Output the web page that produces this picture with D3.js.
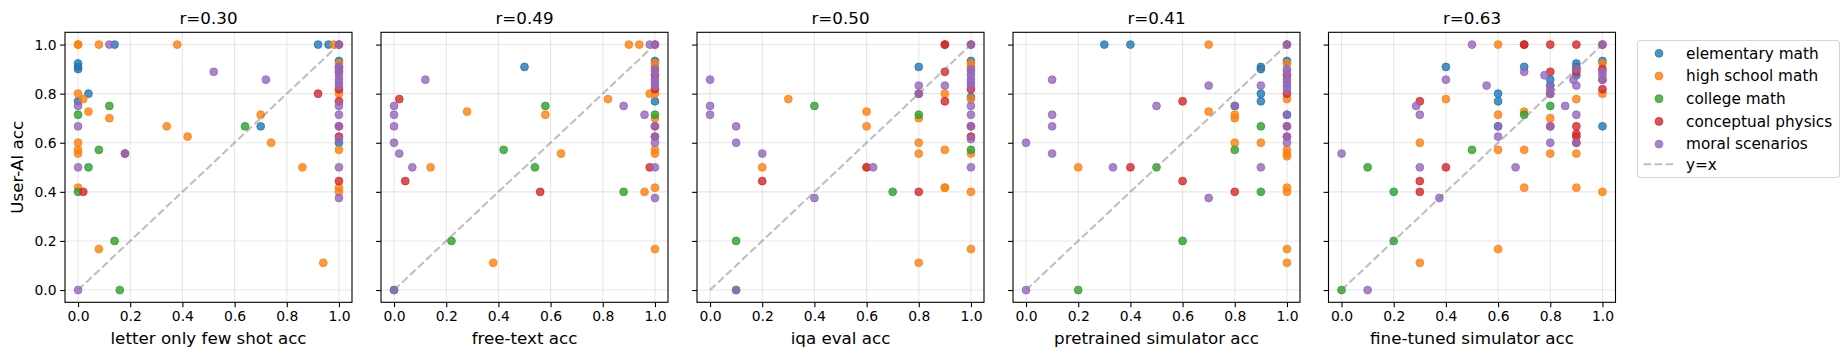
<!DOCTYPE html>
<html>
<head>
<meta charset="utf-8">
<script src="https://cdn.jsdelivr.net/npm/d3@7"></script>
<style>
  body { margin: 0; background: #fff; }
  text { font-family: "DejaVu Sans", sans-serif; fill: #000; }
</style>
</head>
<body>
<div id="graph"></div>
<script>

// categories (tab10 order)
var categories = ["elementary math", "high school math", "college math", "conceptual physics", "moral scenarios"];
var colors = ["#1f77b4", "#ff7f0e", "#2ca02c", "#d62728", "#9467bd"];

var xLabels = ["letter only few shot acc", "free-text acc", "iqa eval acc", "pretrained simulator acc", "fine-tuned simulator acc"];
var rValues = ["0.30", "0.49", "0.50", "0.41", "0.63"];
var tickValues = [0, 0.2, 0.4, 0.6, 0.8, 1.0];

// points: [x, user-AI acc, category index]
var letterOnly = [
  [0,0.923,0],[0,0.909,0],[0,0.9,0],[0,0.769,0],[0.04,0.8,0],[0.14,1,0],[0.92,1,0],[0.96,1,0],[0.7,0.667,0],[1,0.933,0],[1,0.6,0],[1,0.909,0],
  [0,1,1],[0,1,1],[0.08,1,1],[0.38,1,1],[0.98,1,1],[0,0.8,1],[0.02,0.778,1],[0.04,0.727,1],[0.12,0.7,1],[0,0.6,1],[0,0.571,1],[0,0.556,1],
  [0,0.417,1],[0.08,0.167,1],[0.34,0.667,1],[0.42,0.625,1],[0.7,0.714,1],[0.74,0.6,1],[0.86,0.5,1],[0.94,0.111,1],[1,0.923,1],[1,0.8,1],
  [1,0.571,1],[1,0.417,1],[1,0.4,1],
  [0,0.714,2],[0,0.4,2],[0.12,0.75,2],[0.08,0.571,2],[0.04,0.5,2],[0.14,0.2,2],[0.16,0,2],[0.64,0.667,2],
  [0.02,0.4,3],[0.18,0.556,3],[0.92,0.8,3],[1,1,3],[1,0.889,3],[1,0.818,3],[1,0.769,3],[1,0.667,3],[1,0.625,3],[1,0.444,3],
  [0,0.75,4],[0,0.667,4],[0,0.5,4],[0,0,4],[0.12,1,4],[0.18,0.556,4],[0.52,0.889,4],[0.72,0.857,4],[1,1,4],[1,0.909,4],[1,0.9,4],
  [1,0.875,4],[1,0.857,4],[1,0.846,4],[1,0.833,4],[1,0.75,4],[1,0.714,4],[1,0.667,4],[1,0.615,4],[1,0.5,4],[1,0.375,4]
];

var freeText = [
  [0.5,0.909,0],[1,0.933,0],[1,0.769,0],
  [0.9,1,1],[0.94,1,1],[0.28,0.727,1],[0.58,0.714,1],[0.64,0.556,1],[0.14,0.5,1],[0.82,0.778,1],[0.98,0.8,1],[0.96,0.4,1],[0.38,0.111,1],
  [1,0.923,1],[1,0.909,1],[1,0.8,1],[1,0.7,1],[1,0.571,1],[1,0.556,1],[1,0.417,1],[1,0.167,1],
  [0.58,0.75,2],[0.42,0.571,2],[0.54,0.5,2],[0.88,0.4,2],[0.22,0.2,2],[0,0,2],[1,0.714,2],
  [1,1,3],[0.02,0.778,3],[0.043,0.444,3],[0.56,0.4,3],[0.98,0.5,3],[1,0.875,3],[1,0.818,3],[1,0.667,3],[1,0.625,3],
  [0.98,1,4],[1,1,4],[0.12,0.857,4],[0,0.75,4],[0,0.714,4],[0,0.667,4],[0,0.6,4],[0.02,0.556,4],[0.07,0.5,4],[0.88,0.75,4],[0.96,0.714,4],
  [0,0,4],[1,0.9,4],[1,0.889,4],[1,0.857,4],[1,0.846,4],[1,0.833,4],[1,0.667,4],[1,0.625,4],[1,0.6,4],[1,0.5,4],[1,0.375,4]
];

var iqaEval = [
  [0.8,0.909,0],[1,0.933,0],[1,0.786,0],
  [0.3,0.778,1],[0.2,0.5,1],[0.6,0.727,1],[0.6,0.667,1],[0.6,0.5,1],[0.8,0.7,1],[0.8,0.6,1],[0.8,0.556,1],[0.8,0.111,1],[0.9,0.8,1],
  [0.9,0.571,1],[0.9,0.417,1],[0.9,0.417,1],[1,0.923,1],[1,0.909,1],[1,0.778,1],[1,0.556,1],[1,0.4,1],[1,0.167,1],
  [0.4,0.75,2],[0.7,0.4,2],[0.1,0.2,2],[0.1,0,2],[0.8,0.714,2],[1,0.571,2],
  [0.2,0.444,3],[0.6,0.5,3],[0.8,0.8,3],[0.8,0.4,3],[0.9,1,3],[0.9,1,3],[0.9,0.889,3],[0.9,0.769,3],[1,1,3],[1,0.818,3],[1,0.667,3],[1,0.625,3],
  [0,0.857,4],[0,0.75,4],[0,0.714,4],[0.1,0.667,4],[0.1,0.6,4],[0.2,0.556,4],[0.625,0.5,4],[0.4,0.375,4],[0.1,0,4],[0.8,0.833,4],[0.8,0.8,4],
  [0.9,0.833,4],[1,1,4],[1,0.9,4],[1,0.889,4],[1,0.875,4],[1,0.857,4],[1,0.846,4],[1,0.833,4],[1,0.75,4],[1,0.714,4],[1,0.667,4],
  [1,0.615,4],[1,0.5,4]
];

var pretrained = [
  [0.3,1,0],[0.4,1,0],[0.9,0.909,0],[0.9,0.9,0],[0.9,0.8,0],[0.9,0.769,0],[0.8,0.75,0],[1,0.933,0],[1,0.714,0],
  [0.7,1,1],[0.2,0.5,1],[0.7,0.727,1],[0.8,0.714,1],[0.8,0.7,1],[0.8,0.6,1],[0.9,0.6,1],[1,0.923,1],[1,0.778,1],[1,0.571,1],[1,0.556,1],
  [1,0.545,1],[1,0.417,1],[1,0.4,1],[1,0.167,1],[1,0.111,1],
  [0.5,0.5,2],[0.6,0.2,2],[0.2,0,2],[0.8,0.571,2],[0.9,0.667,2],[0.9,0.4,2],
  [0.4,0.5,3],[0.6,0.769,3],[0.6,0.444,3],[0.8,0.4,3],[1,1,3],[1,0.875,3],[1,0.8,3],[1,0.667,3],[1,0.625,3],
  [0.1,0.857,4],[0.1,0.714,4],[0.1,0.667,4],[0,0.6,4],[0.1,0.556,4],[0.333,0.5,4],[0.5,0.75,4],[0.7,0.833,4],[0.7,0.375,4],[0,0,4],
  [0.8,0.75,4],[0.9,0.833,4],[0.9,0.5,4],[1,1,4],[1,0.9,4],[1,0.889,4],[1,0.857,4],[1,0.846,4],[1,0.833,4],[1,0.818,4],[1,0.714,4],
  [1,0.667,4],[1,0.625,4],[1,0.6,4]
];

var fineTuned = [
  [0.4,0.909,0],[0.6,0.8,0],[0.6,0.769,0],[0.6,0.667,0],[0.7,0.909,0],[0.8,0.857,0],[0.8,0.833,0],[0.9,0.923,0],[0.9,0.909,0],[0.9,0.875,0],
  [1,0.933,0],[1,0.667,0],
  [0.3,0.6,1],[0.3,0.111,1],[0.4,0.778,1],[0.6,1,1],[0.6,0.714,1],[0.6,0.571,1],[0.6,0.167,1],[0.7,0.727,1],[0.7,0.571,1],[0.7,0.417,1],
  [0.8,0.7,1],[0.8,0.556,1],[0.9,0.778,1],[0.9,0.556,1],[0.9,0.417,1],[1,0.923,1],[1,0.8,1],[1,0.4,1],
  [0,0,2],[0.1,0.5,2],[0.2,0.4,2],[0.2,0.2,2],[0.5,0.571,2],[0.7,0.714,2],[0.8,0.75,2],
  [0.3,0.769,3],[0.3,0.444,3],[0.3,0.4,3],[0.4,0.5,3],[0.7,1,3],[0.7,1,3],[0.8,1,3],[0.8,0.889,3],[0.8,0.8,3],[0.8,0.667,3],[0.9,1,3],
  [0.9,0.9,3],[0.9,0.889,3],[0.9,0.667,3],[0.9,0.636,3],[0.9,0.625,3],[0.9,0.6,3],[1,1,3],[1,0.9,3],[1,0.857,3],[1,0.818,3],
  [0,0.556,4],[0.1,0,4],[0.286,0.75,4],[0.3,0.714,4],[0.3,0.5,4],[0.375,0.375,4],[0.4,0.857,4],[0.5,1,4],[0.556,0.833,4],[0.6,0.667,4],
  [0.6,0.625,4],[0.667,0.5,4],[0.7,0.889,4],[0.778,0.875,4],[0.8,0.833,4],[0.8,0.815,4],[0.8,0.8,4],[0.8,0.667,4],[0.8,0.6,4],
  [0.857,0.75,4],[0.889,0.857,4],[0.9,0.9,4],[0.9,0.833,4],[0.9,0.714,4],[0.9,0.6,4],[1,1,4],[1,0.889,4],[1,0.875,4],[1,0.857,4]
];

var panels = [letterOnly, freeText, iqaEval, pretrained, fineTuned];

var width = 1848, height = 359;
var axW = 287, axH = 270, axTop = 32.3;
var axLefts = [65, 381, 697, 1013, 1328.5];

var svg = d3.select("#graph").append("svg")
  .attr("width", width)
  .attr("height", height);

svg.append("rect").attr("width", width).attr("height", height).attr("fill", "#fff");

var x = d3.scaleLinear().domain([-0.05, 1.05]).range([0, axW]);
var y = d3.scaleLinear().domain([-0.05, 1.05]).range([axH, 0]);

panels.forEach(function(pts, i) {
  var g = svg.append("g")
    .attr("transform", "translate(" + axLefts[i] + "," + axTop + ")");

  // grid
  g.selectAll(".gx").data(tickValues).enter().append("line")
    .attr("x1", function(d) { return x(d); }).attr("x2", function(d) { return x(d); })
    .attr("y1", 0).attr("y2", axH)
    .attr("stroke", "#b0b0b0").attr("stroke-opacity", 0.3).attr("stroke-width", 1.1);
  g.selectAll(".gy").data(tickValues).enter().append("line")
    .attr("y1", function(d) { return y(d); }).attr("y2", function(d) { return y(d); })
    .attr("x1", 0).attr("x2", axW)
    .attr("stroke", "#b0b0b0").attr("stroke-opacity", 0.3).attr("stroke-width", 1.1);

  // points, drawn category by category like matplotlib
  var sorted = pts.slice().sort(function(a, b) { return a[2] - b[2]; });
  g.selectAll(".dot").data(sorted).enter().append("circle")
    .attr("cx", function(d) { return x(d[0]); })
    .attr("cy", function(d) { return y(d[1]); })
    .attr("r", 3.9)
    .attr("fill", function(d) { return colors[d[2]]; })
    .attr("fill-opacity", 0.8)
    .attr("stroke", function(d) { return colors[d[2]]; })
    .attr("stroke-opacity", 0.8)
    .attr("stroke-width", 1);

  // y = x
  g.append("line")
    .attr("x1", x(0)).attr("y1", y(0))
    .attr("x2", x(1)).attr("y2", y(1))
    .attr("stroke", "#808080").attr("stroke-opacity", 0.5)
    .attr("stroke-width", 2.08)
    .attr("stroke-dasharray", "7.7,3.3");

  // axes
  var xa = g.append("g").attr("transform", "translate(0," + axH + ")")
    .call(d3.axisBottom(x).tickValues(tickValues).tickFormat(d3.format(".1f")).tickSize(4.9).tickPadding(3.5));
  var ya = g.append("g")
    .call(d3.axisLeft(y).tickValues(tickValues).tickFormat(i === 0 ? d3.format(".1f") : "").tickSize(4.9).tickPadding(3.5));
  [xa, ya].forEach(function(a) {
    a.select(".domain").remove();
    a.selectAll("line").attr("stroke", "#000").attr("stroke-width", 1.1);
    a.selectAll("text").attr("font-size", "13.9px").attr("font-family", "DejaVu Sans").attr("fill", "#000");
  });

  g.append("rect")
    .attr("width", axW).attr("height", axH)
    .attr("fill", "none").attr("stroke", "#000").attr("stroke-width", 1.1);

  g.append("text")
    .attr("x", axW / 2).attr("y", -8.3)
    .attr("text-anchor", "middle")
    .attr("font-size", "16.7px")
    .text("r=" + rValues[i]);

  g.append("text")
    .attr("x", axW / 2).attr("y", 312)
    .attr("text-anchor", "middle")
    .attr("font-size", "16.7px")
    .text(xLabels[i]);
});

svg.append("text")
  .attr("transform", "translate(23," + (axTop + axH / 2) + ") rotate(-90)")
  .attr("text-anchor", "middle")
  .attr("font-size", "16.7px")
  .text("User-AI acc");

// legend
var lg = svg.append("g").attr("transform", "translate(1637.5,40.5)");
lg.append("rect")
  .attr("width", 202).attr("height", 137).attr("rx", 3)
  .attr("fill", "#fff").attr("stroke", "#d6d6d6").attr("stroke-width", 1.1);

var rows = lg.selectAll(".row").data(categories).enter().append("g")
  .attr("transform", function(d, i) { return "translate(0," + (12.8 + i * 22.7) + ")"; });
rows.append("circle")
  .attr("cx", 21.5).attr("r", 3.9)
  .attr("fill", function(d, i) { return colors[i]; })
  .attr("fill-opacity", 0.8)
  .attr("stroke", function(d, i) { return colors[i]; })
  .attr("stroke-opacity", 0.8)
  .attr("stroke-width", 1);
rows.append("text")
  .attr("x", 48.5).attr("dy", "0.35em")
  .attr("font-size", "15.3px")
  .text(function(d) { return d; });

var lastRow = lg.append("g").attr("transform", "translate(0," + (12.8 + 5 * 22.2) + ")");
lastRow.append("line")
  .attr("x1", 6).attr("x2", 37)
  .attr("stroke", "#808080").attr("stroke-opacity", 0.5)
  .attr("stroke-width", 2.08).attr("stroke-dasharray", "7.7,3.3");
lastRow.append("text")
  .attr("x", 48.5).attr("dy", "0.35em")
  .attr("font-size", "15.3px")
  .text("y=x");

</script>
</body>
</html>
